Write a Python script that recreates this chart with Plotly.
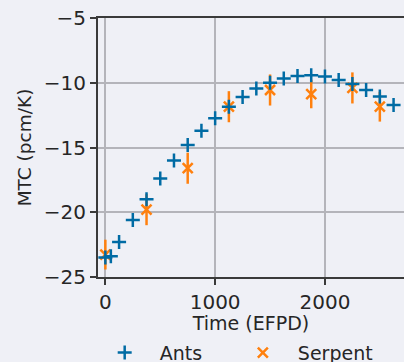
import plotly.graph_objects as go

# Ants data (blue +)
ants_t = [0, 50, 125, 250, 375, 500, 625, 750, 875, 1000, 1125, 1250, 1375,
          1500, 1625, 1750, 1875, 2000, 2125, 2250, 2375, 2500, 2625]
ants_mtc = [-23.5, -23.4, -22.3, -20.6, -19.0, -17.4, -16.0, -14.8, -13.7,
            -12.75, -11.85, -11.1, -10.45, -10.0, -9.68, -9.47, -9.42, -9.52,
            -9.78, -10.1, -10.56, -11.07, -11.72]

# Serpent data (orange x with error bars)
serp_t = [0, 375, 750, 1125, 1500, 1875, 2250, 2500]
serp_mtc = [-23.27, -19.8, -16.6, -11.85, -10.56, -10.87, -10.4, -11.85]
serp_err = [1.15, 1.2, 1.2, 1.2, 1.2, 1.1, 1.2, 1.15]

x_ticks = [0, 1000, 2000]
y_ticks = [-25, -20, -15, -10, -5]

BLUE = "#006BA4"
ORANGE = "#FF800E"
BG = "#EFF0F6"
FONT = "DejaVu Sans"

fig = go.Figure()
fig.add_trace(go.Scatter(
    x=serp_t, y=serp_mtc, mode="markers", name="Serpent", legend="legend2",
    marker=dict(symbol="x-thin", size=10, line=dict(width=2.5, color=ORANGE), color=ORANGE),
    error_y=dict(type="data", array=serp_err, visible=True, color=ORANGE, thickness=2.5, width=0),
))
fig.add_trace(go.Scatter(
    x=ants_t, y=ants_mtc, mode="markers", name="Ants", legend="legend",
    marker=dict(symbol="cross-thin", size=10, line=dict(width=2.5, color=BLUE), color=BLUE),
))

axis_common = dict(
    showgrid=True, gridcolor="#B4B4BA", gridwidth=1.5,
    showline=True, linecolor="#3A3A3A", linewidth=2,
    ticks="outside", ticklen=6, tickwidth=1.5, tickcolor="#3A3A3A",
    tickfont=dict(family=FONT, size=20, color="#262626"),
    zeroline=False, automargin=False,
)

legend_common = dict(orientation="h", xref="container", yref="container",
                     xanchor="left", y=0.078, yanchor="top",
                     itemwidth=60, bgcolor="rgba(0,0,0,0)",
                     font=dict(family=FONT, size=19, color="#262626"))

fig.update_layout(
    width=404, height=362,
    margin=dict(l=98, r=0, t=18, b=85),
    paper_bgcolor=BG, plot_bgcolor=BG,
    font=dict(family=FONT, size=19, color="#262626"),
    xaxis=dict(range=[-67, 2720], tickvals=x_ticks, mirror=True,
               title=dict(text="Time (EFPD)", font=dict(family=FONT, size=19), standoff=4),
               **axis_common),
    yaxis=dict(range=[-25, -5], tickvals=y_ticks,
               title=dict(text="MTC (pcm/K)", font=dict(family=FONT, size=18.5), standoff=7),
               **axis_common),
    legend=dict(x=0.222, **legend_common),
    legend2=dict(x=0.564, **legend_common),
    showlegend=True,
)

fig.write_html("out.html", config={"displayModeBar": False},
               post_script="document.body.style.margin='0';document.body.style.background='%s';" % BG)
